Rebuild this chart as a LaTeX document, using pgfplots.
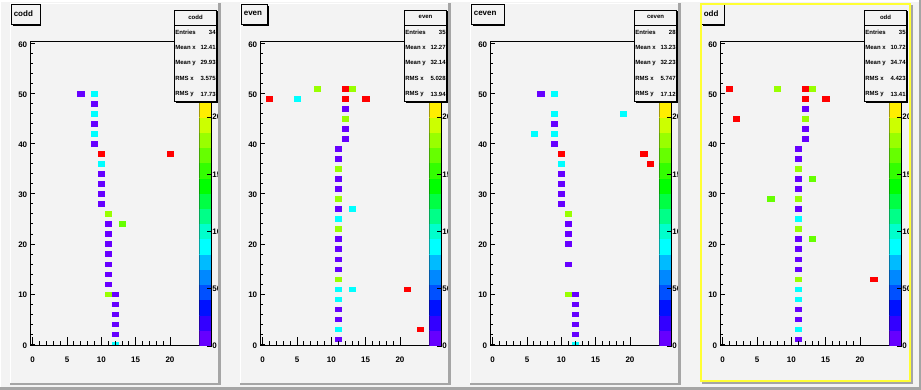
\documentclass[border=0pt]{standalone}
\usepackage{pgfplots}
\pgfplotsset{compat=1.18}
\usepackage{fontspec}
\setmainfont{Liberation Sans}
\definecolor{bg}{RGB}{243,243,243}
\definecolor{shadowgrey}{RGB}{165,165,165}
\definecolor{cviolet}{HTML}{6600FF}
\definecolor{ccyan}{HTML}{00FFFF}
\definecolor{clime}{HTML}{99FF00}
\definecolor{cgreen}{HTML}{66FF00}
\definecolor{cred}{HTML}{FF0000}
\definecolor{selyellow}{HTML}{FFFF33}
\definecolor{p0}{HTML}{6600FF}
\definecolor{p1}{HTML}{3300FF}
\definecolor{p2}{HTML}{0011FF}
\definecolor{p3}{HTML}{0050FF}
\definecolor{p4}{HTML}{0088FF}
\definecolor{p5}{HTML}{00BBFF}
\definecolor{p6}{HTML}{00FFFF}
\definecolor{p7}{HTML}{00FFCC}
\definecolor{p8}{HTML}{00FF88}
\definecolor{p9}{HTML}{00FF44}
\definecolor{p10}{HTML}{00FF00}
\definecolor{p11}{HTML}{33FF00}
\definecolor{p12}{HTML}{66FF00}
\definecolor{p13}{HTML}{99FF00}
\definecolor{p14}{HTML}{CCFF00}
\definecolor{p15}{HTML}{FFEE00}
\definecolor{p16}{HTML}{FFCC00}
\definecolor{p17}{HTML}{FF9900}
\definecolor{p18}{HTML}{FF5500}
\definecolor{p19}{HTML}{FF0000}

\newcommand\tickfont{\fontsize{8}{9}\selectfont\bfseries}
\newcommand\titlefont{\fontsize{8}{9}\selectfont\bfseries}
\newcommand\statfont{\fontsize{6}{7}\selectfont\bfseries}

\pgfplotsset{
  cells/.style={only marks, color=#1, mark=square*, mark size=2.3pt,
    mark options={color=#1, fill=#1, line width=0.4pt, xscale=1.34}},
  padA/.style={
    scale only axis, width=168.6pt, height=304.3pt, anchor=south west,
    xmin=-0.29, xmax=24.27, ymin=-0.34, ymax=60.32,
    axis on top, clip marker paths=true,
    axis line style={line width=1pt, black},
    xtick={0,5,10,15,20}, minor x tick num=4, ytick=\empty,
    tick pos=left, tick align=inside,
    major tick length=9pt, minor tick length=4.5pt,
    every tick/.append style={black, line width=0.8pt},
    xticklabel style={font=\tickfont, yshift=-7.3pt},
    /pgf/number format/assume math mode=true,
  },
  padB/.style={
    scale only axis, width=168.6pt, height=304.3pt, anchor=south west,
    xmin=-0.29, xmax=24.27, ymin=-0.34, ymax=60.32,
    axis x line=none, axis y line*=left,
    axis line style={line width=1pt, black},
    xtick=\empty, ytick={0,10,...,60}, minor y tick num=4,
    tick align=inside, major tick length=4.7pt, minor tick length=2.3pt,
    every tick/.append style={black, line width=0.8pt},
    yticklabel style={font=\tickfont, yshift=-1pt},
    /pgf/number format/assume math mode=true,
  },
  padC/.style={
    scale only axis, width=12.4pt, height=304.3pt, anchor=south west,
    xmin=0, xmax=1, ymin=0, ymax=266,
    axis x line=none, axis y line*=right, axis on top,
    axis line style={line width=0.8pt, black},
    xtick=\empty, ytick={0,50,...,200},
    tick align=inside, major tick length=5pt,
    every tick/.append style={black, line width=0.8pt},
    yticklabel style={font=\tickfont, xshift=-2.8pt},
    /pgf/number format/assume math mode=true,
  },
}

\newcommand\cbarplots{%
  \addplot[draw=none,fill=p0] coordinates {(0,0)(1,0)(1,13.6)(0,13.6)};
  \addplot[draw=none,fill=p1] coordinates {(0,13.3)(1,13.3)(1,26.9)(0,26.9)};
  \addplot[draw=none,fill=p2] coordinates {(0,26.6)(1,26.6)(1,40.2)(0,40.2)};
  \addplot[draw=none,fill=p3] coordinates {(0,39.9)(1,39.9)(1,53.5)(0,53.5)};
  \addplot[draw=none,fill=p4] coordinates {(0,53.2)(1,53.2)(1,66.8)(0,66.8)};
  \addplot[draw=none,fill=p5] coordinates {(0,66.5)(1,66.5)(1,80.1)(0,80.1)};
  \addplot[draw=none,fill=p6] coordinates {(0,79.8)(1,79.8)(1,93.4)(0,93.4)};
  \addplot[draw=none,fill=p7] coordinates {(0,93.1)(1,93.1)(1,106.7)(0,106.7)};
  \addplot[draw=none,fill=p8] coordinates {(0,106.4)(1,106.4)(1,120.0)(0,120.0)};
  \addplot[draw=none,fill=p9] coordinates {(0,119.7)(1,119.7)(1,133.3)(0,133.3)};
  \addplot[draw=none,fill=p10] coordinates {(0,133.0)(1,133.0)(1,146.6)(0,146.6)};
  \addplot[draw=none,fill=p11] coordinates {(0,146.3)(1,146.3)(1,159.9)(0,159.9)};
  \addplot[draw=none,fill=p12] coordinates {(0,159.6)(1,159.6)(1,173.2)(0,173.2)};
  \addplot[draw=none,fill=p13] coordinates {(0,172.9)(1,172.9)(1,186.5)(0,186.5)};
  \addplot[draw=none,fill=p14] coordinates {(0,186.2)(1,186.2)(1,199.8)(0,199.8)};
  \addplot[draw=none,fill=p15] coordinates {(0,199.5)(1,199.5)(1,213.1)(0,213.1)};
  \addplot[draw=none,fill=p16] coordinates {(0,212.8)(1,212.8)(1,226.4)(0,226.4)};
  \addplot[draw=none,fill=p17] coordinates {(0,226.1)(1,226.1)(1,239.7)(0,239.7)};
  \addplot[draw=none,fill=p18] coordinates {(0,239.4)(1,239.4)(1,253.0)(0,253.0)};
  \addplot[draw=none,fill=p19] coordinates {(0,252.7)(1,252.7)(1,266)(0,266)};
}

% decorations: #1 P, #2 title, #3 title box right, #4 entries, #5 mean x, #6 mean y, #7 rms x, #8 rms y
\newcommand\paddeco[8]{%
  \begin{scope}[shift={(#1pt,0pt)}]
    \fill[black] (2.5,364.4) rectangle (#3+1.4,384.1);
    \filldraw[fill=bg, draw=black, line width=0.8pt] (1,365.7) rectangle (#3,385.5);
    \node[anchor=west, inner sep=0pt, font=\titlefont] at (3.6,376.2) {#2};
    \fill[black] (165.8,286.9) rectangle (208.1,378.6);
    \filldraw[fill=bg, draw=black, line width=0.8pt] (164.3,288.3) rectangle (206.7,380);
    \draw[line width=0.8pt] (164.3,364.7) -- (206.7,364.7);
    \node[font=\statfont, inner sep=0pt] at (185.5,372.6) {#2};
    \node[font=\statfont, inner sep=0pt, anchor=west] at (165.2,358) {Entries};
    \node[font=\statfont, inner sep=0pt, anchor=east] at (205.8,358) {#4};
    \node[font=\statfont, inner sep=0pt, anchor=west] at (165.2,343) {Mean x};
    \node[font=\statfont, inner sep=0pt, anchor=east] at (205.8,343) {#5};
    \node[font=\statfont, inner sep=0pt, anchor=west] at (165.2,327.3) {Mean y};
    \node[font=\statfont, inner sep=0pt, anchor=east] at (205.8,327.3) {#6};
    \node[font=\statfont, inner sep=0pt, anchor=west] at (165.2,312) {RMS x};
    \node[font=\statfont, inner sep=0pt, anchor=east] at (205.8,312) {#7};
    \node[font=\statfont, inner sep=0pt, anchor=west] at (165.2,296) {RMS y};
    \node[font=\statfont, inner sep=0pt, anchor=east] at (205.8,296) {#8};
  \end{scope}}

% plain pad bevel
\newcommand\padbevel[1]{%
  \begin{scope}[shift={(#1pt,0pt)}]
    \fill[white] (0,5) rectangle (1,387);
    \fill[white] (0,386) rectangle (210,387);
    \fill[shadowgrey] (208.2,5) rectangle (210.5,387);
    \fill[shadowgrey] (0,5) rectangle (210.5,7.3);
  \end{scope}}

\begin{document}
\begin{tikzpicture}[x=1pt,y=1pt]
\useasboundingbox (0,0) rectangle (921,390);
\fill[bg] (0,0) rectangle (921,390);
\fill[white] (0,388) rectangle (921,390);
\fill[white] (0,0) rectangle (1,390);
\fill[shadowgrey] (0,0) rectangle (921,2.7);
\fill[shadowgrey] (919,0) rectangle (921,390);

% ---------------- pad 1: codd ----------------
\begin{scope}
\clip (11,7.3) rectangle (218.2,386);
\begin{axis}[padA, at={(30.7pt,44pt)}]
  \addplot[cells=cviolet] coordinates {(7,50)(9,48)(9,44)(9,40)(10,34)(10,32)(10,30)(10,28)(11,24)(11,22)(11,20)(11,18)(11,16)(11,14)(11,12)(12,10)(12,8)(12,6)(12,4)(12,2)};
  \addplot[cells=ccyan] coordinates {(9,50)(9,46)(9,42)(10,36)(12,0)};
  \addplot[cells=clime] coordinates {(11,26)(11,10)};
  \addplot[cells=cgreen] coordinates {(13,24)};
  \addplot[cells=cred] coordinates {(10,38)(20,38)};
\end{axis}
\begin{axis}[padB, at={(30.7pt,44pt)}]
  \addplot[draw=none] coordinates {(0,0)};
\end{axis}
\begin{axis}[padC, at={(199.3pt,44pt)}]
  \cbarplots
\end{axis}
\end{scope}
\paddeco{10}{codd}{30}{34}{12.41}{29.93}{3.575}{17.73}
\padbevel{10}

% ---------------- pad 2: even ----------------
\begin{scope}
\clip (241,7.3) rectangle (448.2,386);
\begin{axis}[padA, at={(260.7pt,44pt)}]
  \addplot[cells=cviolet] coordinates {(12,47)(12,43)(12,41)(11,39)(11,37)(11,33)(11,31)(11,27)(11,21)(11,19)(11,17)(11,15)(11,7)(11,5)(11,1)};
  \addplot[cells=ccyan] coordinates {(5,49)(13,27)(11,25)(11,11)(13,11)(11,9)(11,3)};
  \addplot[cells=clime] coordinates {(8,51)(13,51)(12,45)(11,35)(11,29)(11,23)(11,13)};
  \addplot[cells=cred] coordinates {(12,51)(1,49)(12,49)(15,49)(21,11)(23,3)};
\end{axis}
\begin{axis}[padB, at={(260.7pt,44pt)}]
  \addplot[draw=none] coordinates {(0,0)};
\end{axis}
\begin{axis}[padC, at={(429.3pt,44pt)}]
  \cbarplots
\end{axis}
\end{scope}
\paddeco{240}{even}{27.3}{35}{12.27}{32.14}{5.028}{13.94}
\padbevel{240}

% ---------------- pad 3: ceven ----------------
\begin{scope}
\clip (471,7.3) rectangle (678.2,386);
\begin{axis}[padA, at={(490.7pt,44pt)}]
  \addplot[cells=cviolet] coordinates {(7,50)(9,44)(9,40)(10,34)(10,32)(10,30)(10,28)(11,24)(11,22)(11,20)(11,16)(12,10)(12,8)(12,6)(12,4)(12,2)};
  \addplot[cells=ccyan] coordinates {(9,50)(9,46)(19,46)(6,42)(9,42)(10,36)(12,0)};
  \addplot[cells=clime] coordinates {(11,26)(11,10)};
  \addplot[cells=cred] coordinates {(10,38)(22,38)(23,36)};
\end{axis}
\begin{axis}[padB, at={(490.7pt,44pt)}]
  \addplot[draw=none] coordinates {(0,0)};
\end{axis}
\begin{axis}[padC, at={(659.3pt,44pt)}]
  \cbarplots
\end{axis}
\end{scope}
\paddeco{470}{ceven}{34}{28}{13.23}{32.23}{5.747}{17.12}
\padbevel{470}

% ---------------- pad 4: odd ----------------
\begin{scope}
\clip (702,8.7) rectangle (909,385);
\begin{axis}[padA, at={(720.7pt,44pt)}]
  \addplot[cells=cviolet] coordinates {(12,47)(12,43)(12,41)(11,39)(11,37)(11,33)(11,31)(11,27)(11,21)(11,19)(11,17)(11,15)(11,7)(11,5)(11,1)};
  \addplot[cells=ccyan] coordinates {(11,25)(11,11)(11,9)(11,3)};
  \addplot[cells=clime] coordinates {(8,51)(13,51)(12,45)(11,35)(11,29)(11,23)(11,13)};
  \addplot[cells=cgreen] coordinates {(13,33)(7,29)(13,21)};
  \addplot[cells=cred] coordinates {(1,51)(12,51)(12,49)(15,49)(2,45)(22,13)};
\end{axis}
\begin{axis}[padB, at={(720.7pt,44pt)}]
  \addplot[draw=none] coordinates {(0,0)};
\end{axis}
\begin{axis}[padC, at={(889.3pt,44pt)}]
  \cbarplots
\end{axis}
\end{scope}
\paddeco{700}{odd}{24}{35}{10.72}{34.74}{4.423}{13.41}
\fill[shadowgrey] (911,5.7) rectangle (913,385);
\fill[shadowgrey] (702,5.7) rectangle (913,7.7);
\draw[selyellow, line width=2pt] (701,8.7) rectangle (910,386);
\end{tikzpicture}
\end{document}
